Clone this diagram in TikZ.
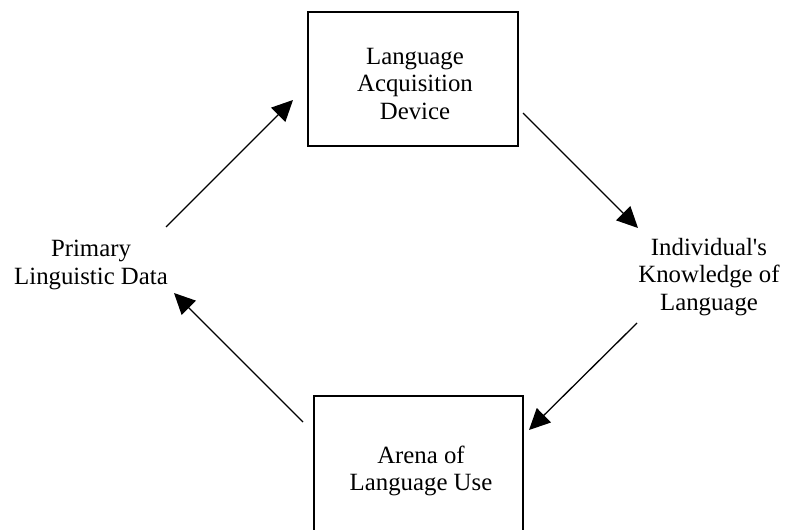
\documentclass[tikz,border=0pt]{standalone}
\usepackage{fontspec}
\setmainfont{Liberation Serif}[Ligatures=TeXOff]
\usetikzlibrary{arrows.meta}
\begin{document}
\begin{tikzpicture}[x=0.5pt,y=-0.5pt,
  box/.style={draw, line width=0.7pt, inner sep=0pt, outer sep=0pt},
  lbl/.style={align=center, inner sep=0pt, font=\fontsize{12.4pt}{13.8pt}\selectfont},
  flow/.style={line width=0.65pt, -{Triangle[length=10.5pt,width=10pt]}}]

\useasboundingbox (0,0) rectangle (785,529);
\clip (0,0) rectangle (785,529);

% the two boxes
\node[box, minimum width=105pt, minimum height=67pt] (lad) at (413,79) {};
\node[box, minimum width=104.5pt, minimum height=75pt] (alu) at (418.5,471) {};

% texts
\node[lbl] (ladtext) at (415,84) {Language\\Acquisition\\Device};
\node[lbl] (alutext) at (421,471) {Arena of\\Language Use};
\node[lbl] (pld) at (91,265) {Primary\\Linguistic Data};
\node[lbl] (ikl) at (709,277) {Individual's\\Knowledge of\\Language};

% arrow end points
\coordinate (p1) at (166,227);
\coordinate (q1) at (293,100);
\coordinate (p2) at (523,113);
\coordinate (q2) at (638,228);
\coordinate (p3) at (637,323);
\coordinate (q3) at (529,430);
\coordinate (p4) at (303,422);
\coordinate (q4) at (174,293);

% the cycle
\draw[flow] (p1) -- (q1);
\draw[flow] (p2) -- (q2);
\draw[flow] (p3) -- (q3);
\draw[flow] (p4) -- (q4);
\end{tikzpicture}
\end{document}
